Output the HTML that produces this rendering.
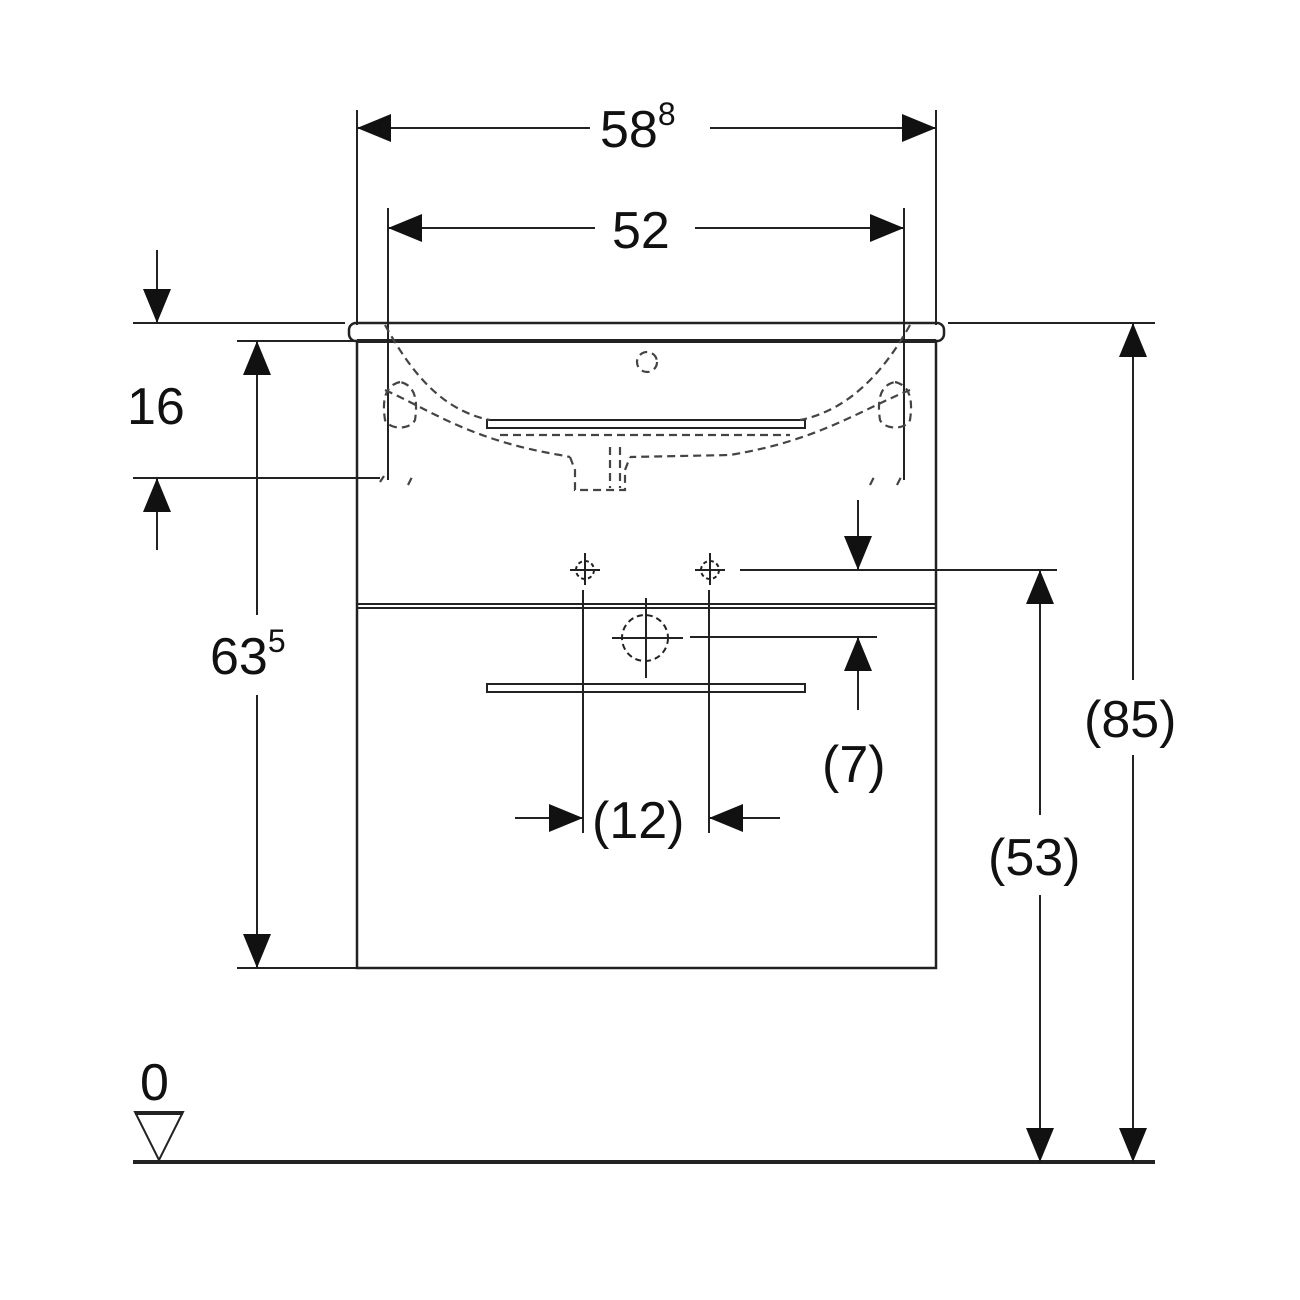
<!DOCTYPE html>
<html><head><style>body{margin:0;background:#fff}svg{display:block}text{font-family:"Liberation Sans",sans-serif;fill:#111}</style></head><body>
<svg width="1300" height="1300" viewBox="0 0 1300 1300" xmlns="http://www.w3.org/2000/svg">
<g stroke="#222" stroke-width="2" fill="none">
<line x1="357" y1="110" x2="357" y2="325"/><line x1="936" y1="110" x2="936" y2="325"/>
<line x1="388" y1="208" x2="388" y2="480"/><line x1="904" y1="208" x2="904" y2="480"/>
<line x1="133" y1="323" x2="345" y2="323"/><line x1="133" y1="478" x2="380" y2="478"/>
<line x1="237" y1="341" x2="357" y2="341"/><line x1="237" y1="968" x2="357" y2="968"/>
<line x1="948" y1="323" x2="1155" y2="323"/>
<line x1="740" y1="570" x2="1057" y2="570"/>
<line x1="690" y1="637" x2="877" y2="637"/>
<line x1="357" y1="128" x2="590" y2="128"/><line x1="710" y1="128" x2="936" y2="128"/>
<line x1="388" y1="228" x2="595" y2="228"/><line x1="695" y1="228" x2="904" y2="228"/>
<line x1="157" y1="250" x2="157" y2="323"/><line x1="157" y1="478" x2="157" y2="550"/>
<line x1="257" y1="341" x2="257" y2="615"/><line x1="257" y1="695" x2="257" y2="968"/>
<line x1="1133" y1="323" x2="1133" y2="680"/><line x1="1133" y1="755" x2="1133" y2="1162"/>
<line x1="1040" y1="570" x2="1040" y2="815"/><line x1="1040" y1="895" x2="1040" y2="1162"/>
<line x1="858" y1="500" x2="858" y2="570"/><line x1="858" y1="637" x2="858" y2="710"/>
<line x1="515" y1="818" x2="583" y2="818"/><line x1="709" y1="818" x2="780" y2="818"/>
<line x1="583" y1="590" x2="583" y2="833"/><line x1="709" y1="590" x2="709" y2="833"/>
<rect x="357" y="341" width="579" height="627" stroke-width="2.5"/>
<line x1="357" y1="604" x2="936" y2="604" stroke-width="2"/><line x1="357" y1="608" x2="936" y2="608" stroke-width="2"/>
<rect x="349" y="323" width="595" height="18" rx="7" stroke-width="2.5"/>
<line x1="357" y1="341" x2="936" y2="341" stroke-width="4"/>
<rect x="487" y="420" width="318" height="8" stroke-width="2"/>
<rect x="487" y="684" width="318" height="8" stroke-width="2"/>
<line x1="133" y1="1162" x2="1155" y2="1162" stroke-width="4"/>
<polygon points="135,1112 183,1112 159,1160" stroke-width="2"/>
<line x1="135" y1="1114" x2="183" y2="1114"/>
<g stroke-width="2"><circle cx="585" cy="570" r="9" stroke-dasharray="4 3"/><line x1="570" y1="570" x2="600" y2="570"/><line x1="585" y1="553" x2="585" y2="585"/>
<circle cx="710" cy="570" r="9" stroke-dasharray="4 3"/><line x1="695" y1="570" x2="725" y2="570"/><line x1="710" y1="553" x2="710" y2="585"/></g>
<circle cx="645" cy="638" r="23" stroke-dasharray="6 4"/>
<line x1="612" y1="638" x2="683" y2="638"/><line x1="646" y1="598" x2="646" y2="678"/>
<g stroke="#444" stroke-width="2.2" stroke-dasharray="8 5">
<path d="M385,325 C410,370 440,410 490,420"/>
<path d="M910,325 C885,370 850,410 800,420"/>
<path d="M385,390 C430,410 470,440 560,455 L570,457"/>
<path d="M910,390 C860,410 820,440 730,455 L630,457"/>
<path d="M500,435 L790,435"/>
<path d="M570,457 L575,470 L575,490 L625,490 L625,470 L630,457"/>
<path d="M610,447 L610,488 M620,447 L620,488"/>
<path d="M400,382 C385,385 382,400 385,420 C390,430 410,430 415,420 C418,400 415,385 400,382"/>
<path d="M895,382 C910,385 913,400 910,420 C905,430 885,430 880,420 C877,400 880,385 895,382"/>
<circle cx="647" cy="362" r="10"/>
<path d="M380,482 l4,-6 M408,485 l4,-8 M870,485 l4,-8 M897,485 l4,-8"/>
</g>
</g>
<g fill="#111">
<polygon points="357,128 391,114 391,142"/><polygon points="936,128 902,114 902,142"/>
<polygon points="388,228 422,214 422,242"/><polygon points="904,228 870,214 870,242"/>
<polygon points="157,323 143,289 171,289"/><polygon points="157,478 143,512 171,512"/>
<polygon points="257,341 243,375 271,375"/><polygon points="257,968 243,934 271,934"/>
<polygon points="1133,323 1119,357 1147,357"/><polygon points="1133,1162 1119,1128 1147,1128"/>
<polygon points="1040,570 1026,604 1054,604"/><polygon points="1040,1162 1026,1128 1054,1128"/>
<polygon points="858,570 844,536 872,536"/><polygon points="858,637 844,671 872,671"/>
<polygon points="583,818 549,804 549,832"/><polygon points="709,818 743,804 743,832"/>
</g>
<g font-size="52">
<text x="600" y="147">58<tspan font-size="32" dy="-22">8</tspan></text>
<text x="612" y="248">52</text>
<text x="127" y="424">16</text>
<text x="210" y="674">63<tspan font-size="32" dy="-22">5</tspan></text>
<text x="1084" y="737">(85)</text>
<text x="988" y="875">(53)</text>
<text x="822" y="782">(7)</text>
<text x="592" y="838">(12)</text>
<text x="140" y="1100">0</text>
</g>
</svg>
</body></html>
